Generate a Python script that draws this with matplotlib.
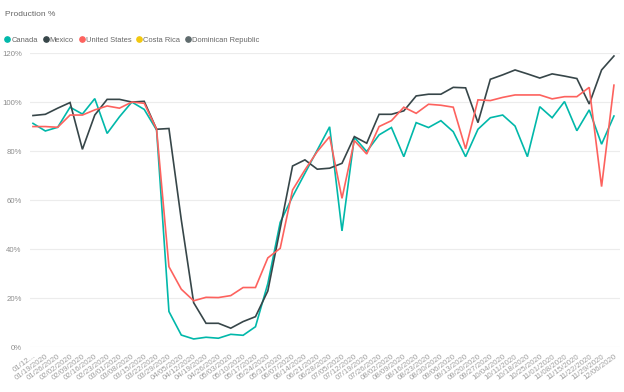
import numpy as np
import pandas as pd
import matplotlib
matplotlib.use("Agg")
import matplotlib.pyplot as plt
from matplotlib.lines import Line2D

# weekly dates 01/12/2020 .. 12/06/2020
dates = pd.date_range("2020-01-12", "2020-12-06", freq="7D")
date_labels = [d.strftime("%m/%d/%Y") for d in dates]
date_labels[0] = "01/12..."

canada = [91.4, 88.3, 89.8, 98.0, 95.2, 101.5, 87.3, 94.1, 100.1, 97.1,
          88.7, 14.6, 5.0, 3.4, 4.1, 3.7, 5.3, 4.9, 8.4, 26.0,
          51.0, 61.5, 71.0, 80.5, 90.0, 47.5, 85.7, 79.9, 86.7, 89.7,
          77.8, 91.7, 89.7, 92.5, 88.0, 77.8, 89.0, 93.7, 94.8, 90.3,
          77.8, 98.2, 93.7, 100.3, 88.4, 96.9, 82.9, 94.4]
mexico = [94.6, 95.1, 97.6, 99.9, 80.8, 94.8, 101.2, 101.2, 100.1, 100.4,
          89.0, 89.3, 52.0, 18.2, 9.8, 9.8, 7.8, 10.5, 12.5, 23.0,
          48.5, 74.0, 76.5, 72.7, 73.1, 75.1, 86.0, 83.3, 95.1, 95.1,
          96.5, 102.6, 103.3, 103.3, 106.1, 105.9, 91.7, 109.4, 111.2, 113.2,
          111.6, 109.9, 111.6, 110.7, 109.7, 99.3, 113.2, 118.9]
united_states = [90.1, 90.1, 89.8, 94.8, 94.8, 96.9, 98.5, 97.6, 100.1, 99.6,
                 89.0, 32.9, 23.7, 19.0, 20.4, 20.3, 21.1, 24.4, 24.4, 36.5,
                 40.4, 64.2, 72.4, 79.9, 86.0, 60.8, 84.4, 78.9, 90.1, 92.5,
                 98.0, 95.5, 99.2, 98.8, 98.0, 81.0, 101.0, 100.7, 102.0, 103.0,
                 103.0, 103.0, 101.4, 102.3, 102.3, 106.1, 65.6, 107.0]
costa_rica = []
dominican_republic = []

series = [("Canada", canada, "#01B8AA"),
          ("Mexico", mexico, "#374649"),
          ("United States", united_states, "#FD625E"),
          ("Costa Rica", costa_rica, "#F2C80F"),
          ("Dominican Republic", dominican_republic, "#5F6B6D")]

plt.rcParams['font.family'] = ['Liberation Sans', 'DejaVu Sans']
fig = plt.figure(figsize=(6.24, 3.92), dpi=100)
ax = fig.add_axes([30 / 624, 1 - 347.3 / 392, 590 / 624, (347.3 - 53.3) / 392])

x = np.arange(len(dates))
handles = []
for name, vals, color in series:
    if len(vals):
        ax.plot(x[:len(vals)], vals, color=color, lw=1.2, solid_joinstyle="miter")
    handles.append(Line2D([], [], marker="o", ls="none", color=color,
                          markersize=3.8, label=name))

ax.set_xlim(-0.24, 47.49)
ax.set_ylim(0, 120)
ax.set_yticks(np.arange(0, 121, 20))
ax.set_yticklabels([f"{v}%" for v in range(0, 121, 20)])
ax.grid(axis="y", color="#ececec", lw=0.8)
ax.set_axisbelow(True)
for s in ax.spines.values():
    s.set_visible(False)
ax.tick_params(axis="y", length=0, pad=6, labelsize=5.6, labelcolor="#8c8c8c")
ax.set_xticks(x)
ax.set_xticklabels(date_labels, rotation=36, ha="right", va="top",
                   rotation_mode="anchor", fontsize=5.7, color="#a0a0a0")
ax.tick_params(axis="x", length=0, pad=4)

fig.text(5 / 624, 1 - 14 / 392, "Production %", fontsize=6, color="#666666",
         va="center", ha="left")
fig.legend(handles=handles, loc="center left", ncol=5, frameon=False,
           bbox_to_anchor=(3 / 624, 1 - 40 / 392), fontsize=5.4, labelcolor="#666666",
           handletextpad=0.0, columnspacing=0.5, handlelength=1.1,
           borderaxespad=0, borderpad=0)

fig.savefig("out.png", dpi=100)
